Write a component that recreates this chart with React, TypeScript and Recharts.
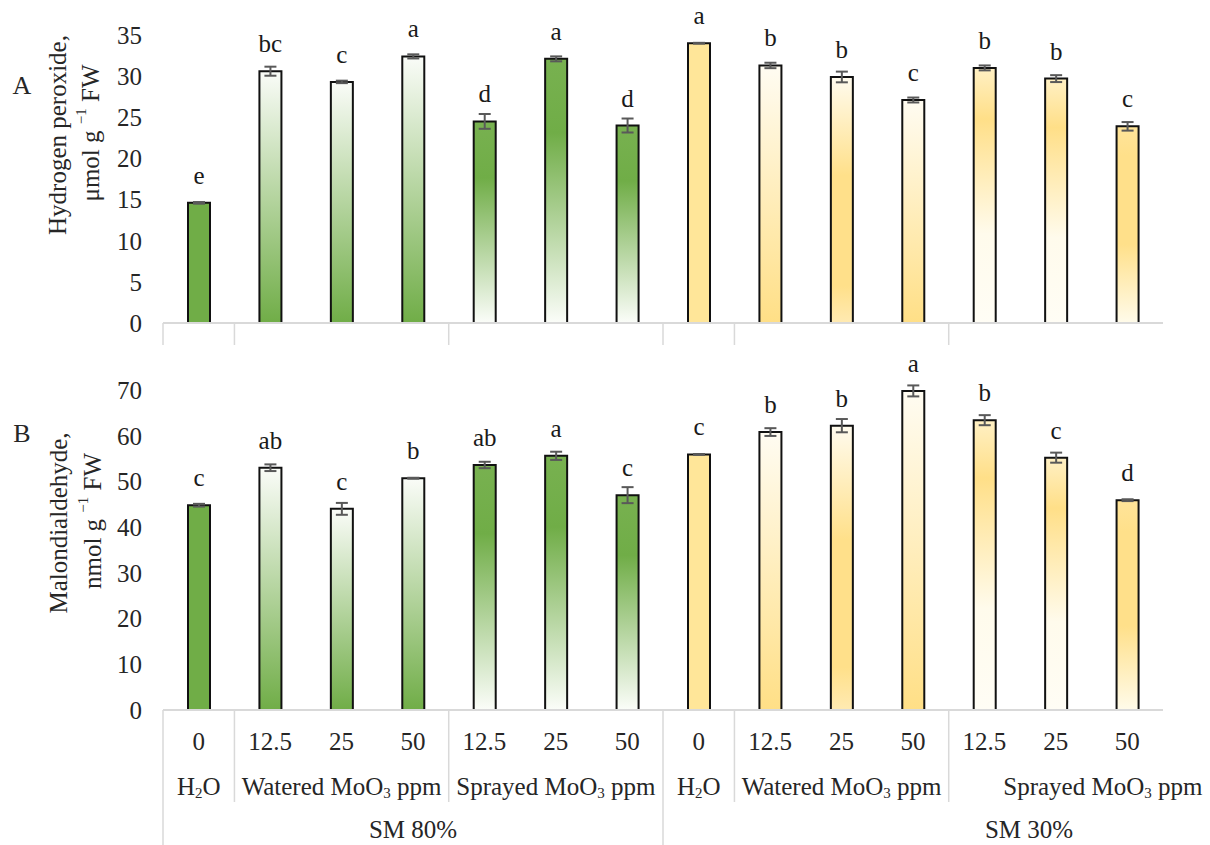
import React from "react";
import { BarChart, Bar, XAxis, YAxis, ErrorBar, LabelList, Cell } from "recharts";

// x categories (MoO3 dose, ppm)
const doses = ["0", "12.5", "25", "50", "12.5", "25", "50", "0", "12.5", "25", "50", "12.5", "25", "50"];
const treatmentGroups = [
  { label: "H₂O", start: 0, span: 1 },
  { label: "Watered  MoO₃ ppm", start: 1, span: 3 },
  { label: "Sprayed  MoO₃ ppm", start: 4, span: 3 },
  { label: "H₂O", start: 7, span: 1 },
  { label: "Watered  MoO₃ ppm", start: 8, span: 3 },
  { label: "Sprayed  MoO₃ ppm", start: 11, span: 3 },
];
const moistureGroups = [
  { label: "SM 80%", start: 0, span: 7 },
  { label: "SM 30%", start: 7, span: 7 },
];

// panel A - hydrogen peroxide
const h2o2 = [14.6, 30.6, 29.3, 32.4, 24.5, 32.1, 24.0, 34.0, 31.3, 29.9, 27.1, 31.0, 29.7, 23.9];
const h2o2Err = [0.1, 0.55, 0.15, 0.25, 0.9, 0.3, 0.85, 0.05, 0.33, 0.65, 0.3, 0.3, 0.42, 0.52];
const h2o2Letters = ["e", "bc", "c", "a", "d", "a", "d", "a", "b", "b", "c", "b", "b", "c"];
const h2o2Ticks = [0, 5, 10, 15, 20, 25, 30, 35];

// panel B - malondialdehyde
const mda = [44.8, 53.0, 44.0, 50.7, 53.6, 55.6, 47.0, 55.9, 60.8, 62.2, 69.8, 63.4, 55.2, 45.9];
const mdaErr = [0.3, 0.73, 1.3, 0.1, 0.7, 0.9, 1.75, 0.1, 0.85, 1.45, 1.2, 1.1, 1.1, 0.2];
const mdaLetters = ["c", "ab", "c", "b", "ab", "a", "c", "c", "b", "b", "a", "b", "c", "d"];
const mdaTicks = [0, 10, 20, 30, 40, 50, 60, 70];

// styling
const font = "'Liberation Serif', 'Times New Roman', serif";
const textColor = "#262626";
const gridGray = "#d9d9d9";
const W = 1210;
const Y_AXIS_W = 163;
const RIGHT = 47;
const band = (W - Y_AXIS_W - RIGHT) / doses.length;

const gradients = [
  { id: "solidG", stops: [[0, "#70AD47"], [1, "#70AD47"]] },
  { id: "w2g", stops: [[0, "#FAFCF8"], [1, "#70AD47"]] },
  { id: "g2w", stops: [[0, "#78B150"], [0.28, "#70AD47"], [1, "#FBFDF9"]] },
  { id: "solidY", stops: [[0, "#FFE699"], [1, "#FFE699"]] },
  { id: "c2y", stops: [[0, "#FFFCF2"], [1, "#FFDF86"]] },
  { id: "c2yMid", stops: [[0, "#FFFBEE"], [0.4, "#FFE08A"], [0.85, "#FFE08A"], [1, "#FFEAB2"]] },
  { id: "y2c", stops: [[0, "#FFF0C4"], [0.2, "#FFDF88"], [0.65, "#FFFBEC"], [1, "#FFFDF5"]] },
  { id: "y2cLong", stops: [[0, "#FFE49A"], [0.15, "#FFE08A"], [0.6, "#FFE08A"], [1, "#FFFBEA"]] },
];
const barFills = ["solidG", "w2g", "w2g", "w2g", "g2w", "g2w", "g2w", "solidY", "c2y", "c2yMid", "c2y", "y2c", "y2c", "y2cLong"];
// Excel pushed the last SM 30% labels to the right
const treatmentDx = [0, 0, 0, 0, 0, 47];
const moistureDx = [0, 116];

const dataA = doses.map((d, i) => ({ key: i, dose: d, value: h2o2[i], err: h2o2Err[i], letter: h2o2Letters[i] }));
const dataB = doses.map((d, i) => ({ key: i, dose: d, value: mda[i], err: mdaErr[i], letter: mdaLetters[i] }));

function rich(text: string) {
  const parts = text.split(/([₂₃])/).filter((p) => p !== "");
  let shifted = false;
  return parts.map((p, i) => {
    if (p === "₂" || p === "₃") {
      shifted = true;
      return (
        <tspan key={i} fontSize={15} dy={3}>
          {p === "₂" ? "2" : "3"}
        </tspan>
      );
    }
    const dy = shifted ? -3 : 0;
    shifted = false;
    return (
      <tspan key={i} dy={dy}>
        {p}
      </tspan>
    );
  });
}

function makeTick(showText: boolean, innerLen: number, outerLen: number) {
  return (props: any) => {
    const { x, y, payload } = props;
    const i = Number(payload.value);
    const left = x - band / 2;
    const tg = treatmentGroups.findIndex((g) => g.start === i);
    const mg = moistureGroups.findIndex((g) => g.start === i);
    return (
      <g>
        {tg >= 0 && (
          <line x1={left} x2={left} y1={y} y2={y + (mg >= 0 ? outerLen : innerLen)} stroke={gridGray} strokeWidth={1.5} />
        )}
        {showText && (
          <text x={x} y={y + 40} textAnchor="middle" fontSize={25} fontFamily={font} fill={textColor}>
            {doses[i]}
          </text>
        )}
        {showText && tg >= 0 && (
          <text
            x={left + (treatmentGroups[tg].span * band) / 2 + treatmentDx[tg]}
            y={y + 85}
            textAnchor="middle"
            fontSize={25}
            fontFamily={font}
            fill={textColor}
          >
            {rich(treatmentGroups[tg].label)}
          </text>
        )}
        {showText && mg >= 0 && (
          <text
            x={left + (moistureGroups[mg].span * band) / 2 + moistureDx[mg]}
            y={y + 128}
            textAnchor="middle"
            fontSize={25}
            fontFamily={font}
            fill={textColor}
          >
            {moistureGroups[mg].label}
          </text>
        )}
      </g>
    );
  };
}

function Panel({ data, height, top, ticks, xHeight, tick }: any) {
  const max = ticks[ticks.length - 1];
  return (
    <BarChart width={W} height={height} data={data} margin={{ top, right: RIGHT, left: 0, bottom: 0 }}>
      <XAxis
        dataKey="key"
        height={xHeight}
        interval={0}
        tickLine={false}
        tickSize={0}
        tickMargin={0}
        axisLine={{ stroke: gridGray, strokeWidth: 2 }}
        tick={tick}
      />
      <YAxis
        width={Y_AXIS_W}
        domain={[0, max]}
        ticks={ticks}
        allowDataOverflow
        axisLine={false}
        tickLine={false}
        tickSize={0}
        tickMargin={21}
        tick={{ fontSize: 25, fontFamily: font, fill: textColor }}
      />
      <Bar dataKey="value" barSize={22} stroke="#111" strokeWidth={2} isAnimationActive={false}>
        {data.map((_: any, i: number) => (
          <Cell key={i} fill={`url(#${barFills[i]})`} />
        ))}
        <ErrorBar dataKey="err" direction="y" width={6} stroke="#595959" strokeWidth={2} isAnimationActive={false} />
        <LabelList dataKey="letter" position="top" offset={19} fontSize={25} fontFamily={font} fill="#1a1a1a" />
      </Bar>
    </BarChart>
  );
}

function Titles() {
  return (
    <svg width={W} height={845} style={{ position: "absolute", left: 0, top: 0, pointerEvents: "none" }}>
      <defs>
        {gradients.map((g) => (
          <linearGradient key={g.id} id={g.id} x1="0" y1="0" x2="0" y2="1">
            {g.stops.map(([o, c], j) => (
              <stop key={j} offset={o as number} stopColor={c as string} />
            ))}
          </linearGradient>
        ))}
      </defs>
      <g fontFamily={font} fill={textColor} fontSize={25}>
        <text x={22} y={85} textAnchor="middle" dominantBaseline="central" fontSize={26}>A</text>
        <text x={57} y={135} textAnchor="middle" dominantBaseline="central" transform="rotate(-90 57 135)">
          Hydrogen peroxide,
        </text>
        <text x={90} y={133} textAnchor="middle" dominantBaseline="central" transform="rotate(-90 90 133)">
          μmol g <tspan fontSize={15} dy={-9}>−1</tspan>
          <tspan dy={9}> FW</tspan>
        </text>
        <text x={22} y={433} textAnchor="middle" dominantBaseline="central" fontSize={26}>B</text>
        <text x={58} y={523} textAnchor="middle" dominantBaseline="central" transform="rotate(-90 58 523)">
          Malondialdehyde,
        </text>
        <text x={92} y={521} textAnchor="middle" dominantBaseline="central" transform="rotate(-90 92 521)">
          nmol g <tspan fontSize={15} dy={-9}>−1</tspan>
          <tspan dy={9}> FW</tspan>
        </text>
      </g>
    </svg>
  );
}

export default function App() {
  return (
    <div style={{ position: "absolute", left: 0, top: 0, width: W, height: 845, background: "#fff" }}>
      <div style={{ position: "absolute", left: 0, top: 0 }}>
        <Panel data={dataA} height={345} top={35} ticks={h2o2Ticks} xHeight={22} tick={makeTick(false, 22, 22)} />
      </div>
      <div style={{ position: "absolute", left: 0, top: 345 }}>
        <Panel data={dataB} height={500} top={45} ticks={mdaTicks} xHeight={135} tick={makeTick(true, 92, 135)} />
      </div>
      <Titles />
    </div>
  );
}
